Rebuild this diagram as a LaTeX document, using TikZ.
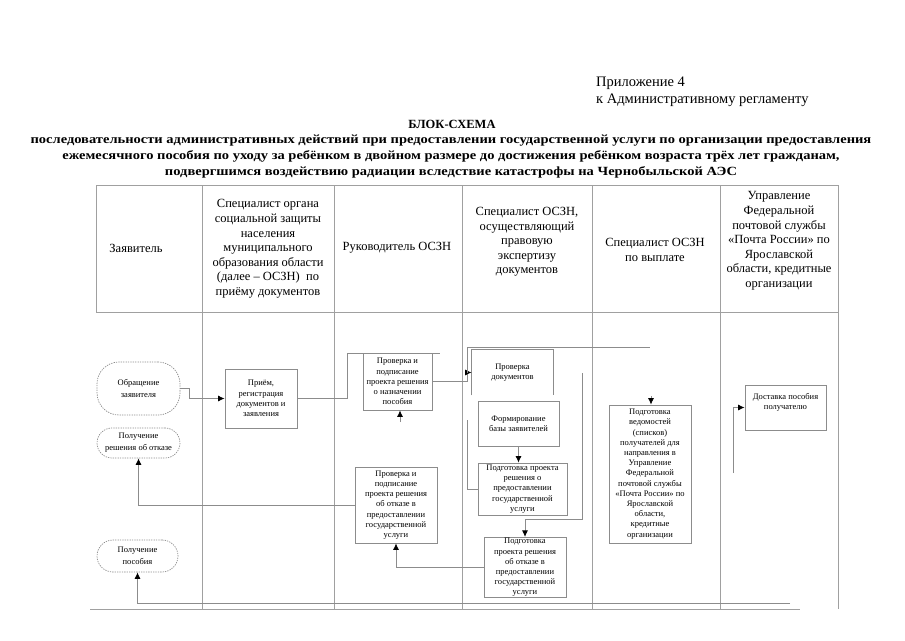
\documentclass[tikz,border=0pt]{standalone}
\usepackage{fontspec}
\setmainfont{Liberation Serif}
\usepackage{graphicx}
\usepackage{tikz}
\usetikzlibrary{arrows.meta,calc}
\definecolor{BSgray}{RGB}{140,140,140}
\definecolor{BSline}{RGB}{160,160,160}
\tikzset{
  lane/.style={align=center,inner sep=0pt,font=\fontsize{12.5}{14.6}\selectfont},
  act/.style={draw=BSgray,line width=0.8pt,fill=white,align=center,inner sep=1pt,
              font=\fontsize{8.5}{10.2}\selectfont},
  term/.style={draw=BSgray,line width=0.7pt,dash pattern=on 1.3pt off 1.1pt,align=center,
               inner sep=1pt,font=\fontsize{8.5}{12}\selectfont},
  tbl/.style={draw=BSline,line width=0.9pt},
  ln/.style={draw=BSgray,line width=0.8pt},
  fl/.style={ln,-{Latex[length=6.5pt,width=6pt,color=black]}},
}
\newcommand{\wideln}[1]{\scalebox{1.16}[1]{#1}}

\begin{document}
\begin{tikzpicture}[x=1pt,y=-1pt]
    \useasboundingbox (0,0) rectangle (905,640);
    % heading
    \node[anchor=west,inner sep=0pt,font=\fontsize{14.5}{17}\selectfont] (app) at (596,83) {Приложение 4};
    \node[anchor=west,inner sep=0pt,font=\fontsize{14.5}{17}\selectfont] (reg) at (596,100) {к Административному регламенту};
    \node[inner sep=0pt,font=\bfseries\fontsize{12.5}{16}\selectfont] (title) at (452,124) {БЛОК-СХЕМА};
    \node[inner sep=0pt,align=center,font=\bfseries\fontsize{12.5}{16}\selectfont] (subtitle) at (451,157)
      {\wideln{последовательности административных действий при предоставлении государственной услуги по организации предоставления}\\
       \wideln{ежемесячного пособия по уходу за ребёнком в двойном размере до достижения ребёнком возраста трёх лет гражданам,}\\
       \wideln{подвергшимся воздействию радиации вследствие катастрофы на Чернобыльской АЭС}};
    % table
    \draw[tbl] (96,185) -- (838,185);
    \draw[tbl] (96,312) -- (838,312);
    \draw[tbl] (96,185) -- (96,312);
    \draw[tbl] (838,185) -- (838,609);
    \draw[tbl] (90,609) -- (800,609);
    \foreach \x in {202,334,462,592,720}
      \draw[tbl] (\x,185) -- (\x,609);
    % lane titles
    \node[lane] (h1) at (136,248) {Заявитель};
    \node[lane] (h2) at (268,249) {Специалист органа\\социальной защиты\\населения\\муниципального\\образования области\\(далее – ОСЗН)~ по\\приёму документов};
    \node[lane] (h3) at (397,248) {Руководитель ОСЗН};
    \node[lane] (h4) at (527,242) {Специалист ОСЗН,\\осуществляющий\\правовую\\экспертизу\\документов};
    \node[lane] (h5) at (655,250) {Специалист ОСЗН\\по выплате};
    \node[lane] (h6) at (779,241) {Управление\\Федеральной\\почтовой службы\\«Почта России» по\\Ярославской\\области, кредитные\\организации};
    % terminals
    \node[term,rounded corners=22pt,minimum width=83pt,minimum height=53pt] (obr) at (138.5,388.5) {Обращение\\заявителя};
    \node[term,rounded corners=15pt,minimum width=83pt,minimum height=30pt] (otkaz) at (138.5,443) {Получение\\решения об отказе};
    \node[term,rounded corners=16pt,minimum width=81pt,minimum height=32pt] (posob) at (137.5,556) {Получение\\пособия};
    % actions
    \node[act,minimum width=72pt,minimum height=59pt] (priem) at (261,398.5) {Приём,\\регистрация\\документов и\\заявления};
    \node[act,minimum width=69pt,minimum height=57pt] (podp_nazn) at (397.5,381.5) {Проверка и\\подписание\\проекта решения\\о назначении\\пособия};
    \node[act,draw=none,fill=none,minimum width=81pt,minimum height=45pt] (prov_doc) at (512.5,372.5) {Проверка\\документов};
    \draw[ln] (prov_doc.south west) |- (prov_doc.north east) -- (prov_doc.south east);
    \node[act,minimum width=81pt,minimum height=45pt] (form) at (518.5,423.5) {Формирование\\базы заявителей};
    \node[act,minimum width=89pt,minimum height=52pt] (podg_pred) at (522.5,489) {Подготовка проекта\\решения о\\предоставлении\\государственной\\услуги};
    \node[act,minimum width=82pt,minimum height=59pt] (podg_otk) at (525,567.5) {Подготовка\\проекта решения\\об отказе в\\предоставлении\\государственной\\услуги};
    \node[act,minimum width=82pt,minimum height=76pt] (podp_otk) at (396,505) {Проверка и\\подписание\\проекта решения\\об отказе в\\предоставлении\\государственной\\услуги};
    \node[act,minimum width=82pt,minimum height=138pt] (ved) at (650,474) {Подготовка\\ведомостей\\(списков)\\получателей для\\направления в\\Управление\\Федеральной\\почтовой службы\\«Почта России» по\\Ярославской\\области,\\кредитные\\организации};
    \node[act,minimum width=81pt,minimum height=45pt] (dost) at (785.5,407.5) {};
    \node[act,draw=none,fill=none,anchor=north] (dost_txt) at ($(dost.north)+(0,7)$) {Доставка пособия\\получателю};
    % free ends
    \coordinate (c1) at (440,353);
    \coordinate (c2) at (650,347);
    \coordinate (c3) at (651,396);
    \coordinate (c4) at (400,422);
    \coordinate (c5) at (467,420);
    \coordinate (c6) at (582,373);
    \coordinate (c7) at (733,473);
    \coordinate (c8) at (790,603);
    \coordinate (j1) at ($(prov_doc.west)+(-4,0)$);
    % connectors
    \draw[fl] (obr.east) -- ++(9,0) |- (priem.west);
    \draw[ln] (priem.east) -| (347,353) -- (c1);
    \draw[fl] (podp_nazn.east) -| (j1) -- (prov_doc.west);
    \draw[ln] (j1) |- (c2);
    \draw[fl] (c3) -- (c3 |- ved.north);
    \draw[fl] (c4) -- (c4 |- podp_nazn.south);
    \draw[ln] (c5) |- (podg_pred.west);
    \draw[fl] (form.south) -- (form.south |- podg_pred.north);
    \draw[fl] (c6) |- ($(podg_otk.north)+(0,-18)$) -- (podg_otk.north);
    \draw[fl] (podg_otk.west) -| (podp_otk.south);
    \draw[fl] (podp_otk.west) -| (otkaz.south);
    \draw[fl] (c7) |- (dost.west);
    \draw[fl] (c8) -| (posob.south);
  \end{tikzpicture}
\end{document}
